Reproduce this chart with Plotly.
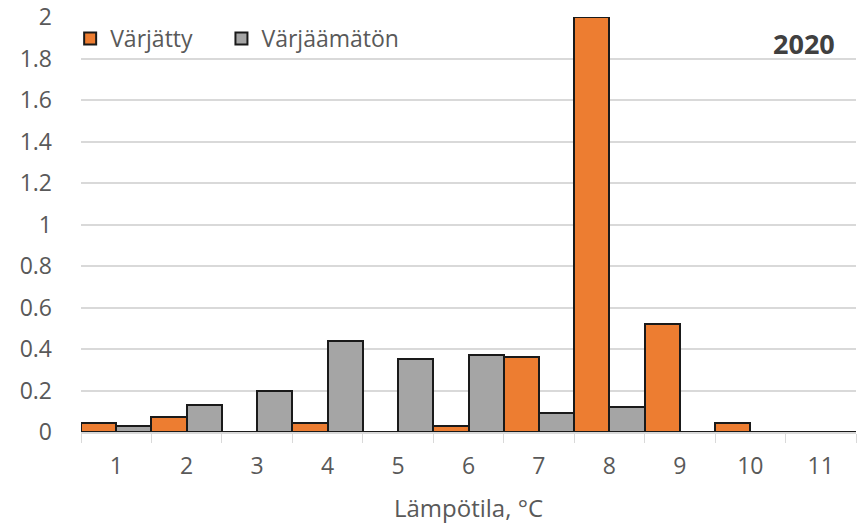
import plotly.graph_objects as go

# Temperature classes (°C)
categories = ["1", "2", "3", "4", "5", "6", "7", "8", "9", "10", "11"]

# Values per temperature class
varjatty = [0.045, 0.07, 0.0, 0.045, 0.0, 0.03, 0.36, 2.0, 0.52, 0.045, 0.0]
varjaamaton = [0.03, 0.13, 0.2, 0.44, 0.35, 0.37, 0.09, 0.12, 0.0, 0.0, 0.0]

y_ticks = [0, 0.2, 0.4, 0.6, 0.8, 1, 1.2, 1.4, 1.6, 1.8, 2]
y_tick_text = ["0", "0.2", "0.4", "0.6", "0.8", "1", "1.2", "1.4", "1.6", "1.8", "2"]

ORANGE = "#ED7D31"
GREY = "#A5A5A5"
TEXT = "#595959"
FONT = "Open Sans, Liberation Sans, sans-serif"
NBSP = "\u00a0"

fig = go.Figure()
fig.add_trace(go.Bar(
    x=categories, y=varjatty, name="Värjätty" + NBSP * 4,
    marker=dict(color=ORANGE, line=dict(color="#1a1a1a", width=2)),
))
fig.add_trace(go.Bar(
    x=categories, y=varjaamaton, name="Värjäämätön",
    marker=dict(color=GREY, line=dict(color="#1a1a1a", width=2)),
))

fig.update_layout(
    width=857, height=527,
    margin=dict(l=81, r=1, t=17, b=95),
    paper_bgcolor="white", plot_bgcolor="white",
    barmode="group", bargap=0, bargroupgap=0,
    font=dict(family=FONT, color=TEXT, size=23),
    legend=dict(
        orientation="h", x=-0.014, y=1.0, xanchor="left", yanchor="top",
        bgcolor="rgba(0,0,0,0)", font=dict(size=23, color=TEXT),
        itemwidth=30, tracegroupgap=0,
    ),
    showlegend=True,
    xaxis=dict(
        type="category", showgrid=False, showline=True,
        linecolor="#d9d9d9", linewidth=1.5,
        ticks="outside", tickson="boundaries", ticklen=9,
        tickcolor="#d9d9d9", tickfont=dict(size=23, color=TEXT),
        ticklabelstandoff=13,
        title=dict(text="Lämpötila, °C", font=dict(size=24, color=TEXT), standoff=20),
    ),
    yaxis=dict(
        range=[0, 2], tickvals=y_ticks, ticktext=y_tick_text,
        showgrid=True, gridcolor="#d9d9d9", gridwidth=1.5,
        zeroline=False, ticks="", ticklabelstandoff=28,
        tickfont=dict(size=23, color=TEXT),
    ),
    annotations=[dict(
        text="<b>2020</b>", xref="paper", yref="paper",
        x=0.976, y=0.985, xanchor="right", yanchor="top",
        showarrow=False, font=dict(size=27, color="#404040", family=FONT),
    )],
)

fig.write_html("out.html")
